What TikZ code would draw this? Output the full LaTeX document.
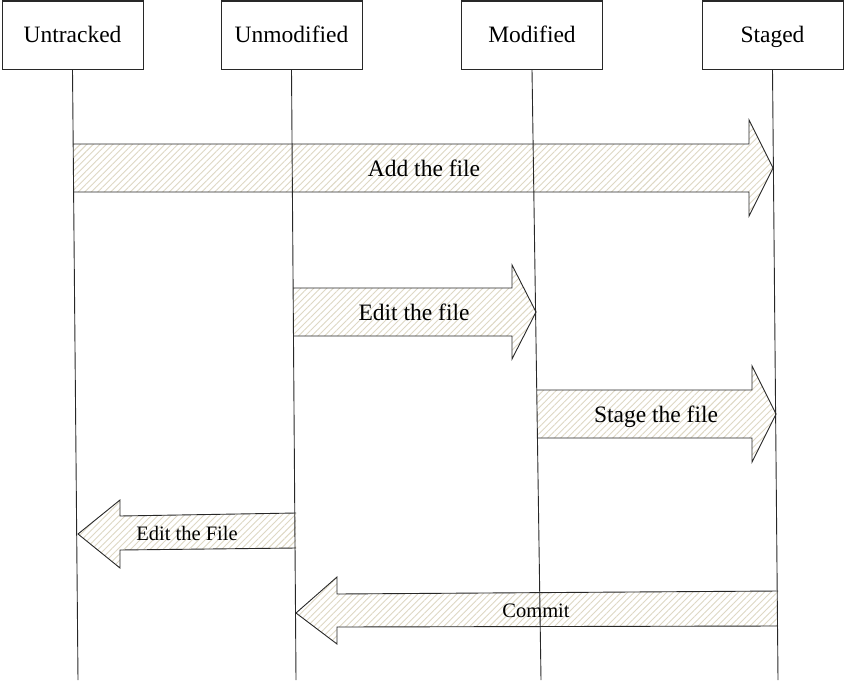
\documentclass[tikz,border=0pt]{standalone}
\usepackage{fontspec}
\setmainfont{Liberation Serif}
\usetikzlibrary{patterns.meta}
\definecolor{hatch}{RGB}{222,216,196}
\definecolor{edge}{RGB}{40,40,40}
\tikzset{
  header/.style={draw=edge, line width=1pt, minimum width=141pt, minimum height=68pt,
    inner sep=0pt, font=\fontsize{23.5}{26}\selectfont},
  headtext/.style={font=\fontsize{23.5}{26}\selectfont, inner sep=0pt, anchor=base},
  lifeline/.style={draw=edge, line width=0.9pt},
  blockarrow/.style={draw=edge, line width=0.9pt},
  hatchfill/.style={pattern={Lines[angle=45,distance=4.6pt,line width=0.9pt]}, pattern color=hatch},
  biglabel/.style={font=\fontsize{23.5}{26}\selectfont, inner sep=0pt, anchor=base},
  smalllabel/.style={font=\fontsize{20.5}{23}\selectfont, inner sep=0pt, anchor=base}
}
\begin{document}
\begin{tikzpicture}[x=1pt,y=-1pt]
\useasboundingbox (0,0) rectangle (845,680);
% headers
\node[header] (untr) at (72.5,35) {};
\node[header] (unmod) at (291.5,35) {};
\node[header] (mod) at (532,35) {};
\node[header] (stg) at (772.5,35) {};
\node[headtext] (untrT) at (72.5,42) {Untracked};
\node[headtext] (unmodT) at (291.5,42) {Unmodified};
\node[headtext] (modT) at (532,42) {Modified};
\node[headtext] (stgT) at (772.5,42) {Staged};
% lifeline ends
\coordinate (untrEnd) at (78,680);
\coordinate (unmodEnd) at (296,680);
\coordinate (modEnd) at (541,680);
\coordinate (stgEnd) at (778,680);
% block arrows
\foreach \pts in {
  {(73,144) -- (749,144) -- (749,120) -- (773,168) -- (749,216) -- (749,192) -- (73,192)},
  {(293,288) -- (512,288) -- (512,265) -- (536,312) -- (512,359) -- (512,336) -- (293,336)},
  {(537,390) -- (752,390) -- (752,366) -- (776,414) -- (752,462) -- (752,438) -- (537,438)},
  {(296,513) -- (120,516) -- (120,500) -- (78,534) -- (120,568) -- (120,550) -- (296,548)},
  {(778,591) -- (337,594) -- (337,577) -- (296,613) -- (337,644) -- (337,627) -- (778,626)}
}{
  \fill[white] \pts -- cycle;
  \fill[hatchfill] \pts -- cycle;
  \draw[blockarrow] \pts;
}
% lifelines
\draw[lifeline] (untr.south) -- (untrEnd);
\draw[lifeline] (unmod.south) -- (unmodEnd);
\draw[lifeline] (mod.south) -- (modEnd);
\draw[lifeline] (stg.south) -- (stgEnd);
% labels
\node[biglabel] (addlbl) at (424,176) {Add the file};
\node[biglabel] (editlbl) at (414,320) {Edit the file};
\node[biglabel] (stagelbl) at (656,422) {Stage the file};
\node[smalllabel] (editFlbl) at (187,540) {Edit the File};
\node[smalllabel] (commitlbl) at (536,617) {Commit};
\end{tikzpicture}
\end{document}
